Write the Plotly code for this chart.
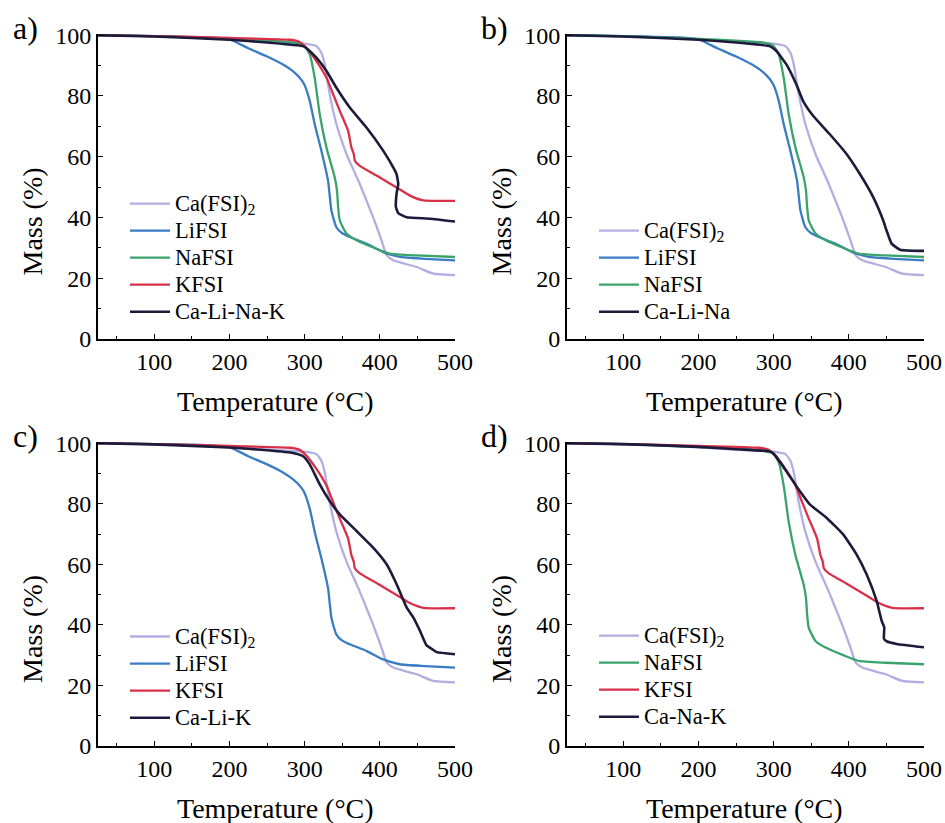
import plotly.graph_objects as go

# ---------------- data ----------------
T_CA = [25, 100, 150, 200, 250, 290, 300, 315.6, 322.2, 326.7, 333.3, 342.2, 355.6, 373.3, 391, 402.2, 409, 417.8, 449, 471, 500]
M_CA = [100, 99.7, 99.3, 98.6, 97.9, 97.4, 97.2, 96.4, 94.2, 90.4, 80.6, 70.7, 60.9, 51, 40.1, 32.5, 27.6, 25.9, 23.7, 21.5, 21.0]

T_LI = [25, 75, 125, 175, 200, 212, 225, 250, 270, 285, 295, 300, 306.7, 314, 322.2, 331.1, 335.6, 342.2, 350, 360, 382.2, 404.4, 426.7, 460, 500]
M_LI = [100, 99.8, 99.6, 99.3, 98.6, 97.3, 95.7, 93, 90.5, 88, 85.5, 83.5, 78.4, 70, 62, 52.1, 42.3, 36.8, 34.8, 33.6, 31.4, 28.6, 27, 26.4, 25.9]

T_NA = [25, 100, 200, 250, 289, 300, 306.7, 313.3, 320, 329, 340, 343, 344.5, 346.7, 355.6, 369, 395.6, 413.3, 449, 500]
M_NA = [100, 99.7, 98.8, 98.2, 97.5, 96.4, 93.7, 86, 74, 63, 53.2, 48.9, 43.4, 39, 34.7, 32.5, 29.7, 28.1, 27.5, 27.0]

T_K = [25, 100, 200, 280, 286.7, 293.3, 302.2, 315.6, 329, 337.8, 346.7, 357.8, 362.2, 365.3, 366.7, 373.3, 395.6, 422.2, 440, 457.8, 500]
M_K = [100, 99.7, 99.1, 98.5, 98.3, 97.8, 95.9, 91.5, 86, 80.6, 75.1, 68.5, 63, 60.9, 58.7, 57, 53.8, 49.9, 47.2, 45.6, 45.5]

T_CALINAK = [25, 100, 200, 250, 297.8, 304.4, 315.6, 329, 342.2, 360, 382.2, 404.4, 417.8, 422.2, 424.5, 422.2, 421.4, 424.5, 435.6, 466.7, 500]
M_CALINAK = [100, 99.6, 98.5, 97.6, 96.4, 95.3, 92.6, 88.2, 82.7, 76.2, 69.6, 62, 56.5, 54.3, 51, 47.8, 43.4, 41.4, 40.1, 39.6, 38.7]

T_CALINA = [25, 100, 200, 250, 294.7, 303.6, 316.9, 330.2, 339, 352.4, 374.7, 396.9, 414.7, 432.4, 445.8, 450.2, 456.9, 468, 500]
M_CALINA = [100, 99.6, 98.5, 97.6, 96.4, 94.8, 90.4, 83.8, 78.4, 73.5, 67.4, 60.9, 54.3, 46.7, 39, 35.7, 31.4, 29.4, 29.0]

T_CALIK = [25, 100, 200, 250, 284.5, 297.8, 306.7, 320, 333.3, 346.7, 369, 391.1, 409, 422.2, 435.6, 444.5, 453.3, 462.2, 469, 475.6, 500]
M_CALIK = [100, 99.6, 98.6, 97.7, 96.8, 95.7, 93, 86.4, 80.9, 76.5, 71, 65.5, 60, 53.5, 45.8, 42.5, 38.1, 33.2, 32.1, 31, 30.3]

T_CANAK = [25, 100, 200, 250, 294.7, 301.3, 316.9, 334.7, 348, 370.2, 392.4, 410.2, 423.6, 436.9, 443.6, 447.1, 446.7, 450.2, 463.6, 500]
M_CANAK = [100, 99.7, 98.8, 98.0, 97.3, 96.2, 90.7, 84.2, 79.8, 75.4, 69.9, 63.3, 56.7, 48, 41.4, 39.2, 35.4, 34.6, 33.7, 32.6]

PANEL_LABELS = ["a)", "b)", "c)", "d)"]
X_TITLE = "Temperature (°C)"
Y_TITLE = "Mass (%)"
X_TICKS = [100, 200, 300, 400, 500]
Y_TICKS = [0, 20, 40, 60, 80, 100]

SER = {
    "ca": ("Ca(FSI)<sub>2</sub>", T_CA, M_CA),
    "li": ("LiFSI", T_LI, M_LI),
    "na": ("NaFSI", T_NA, M_NA),
    "k": ("KFSI", T_K, M_K),
}
MIX = [("Ca-Li-Na-K", T_CALINAK, M_CALINAK),
       ("Ca-Li-Na", T_CALINA, M_CALINA),
       ("Ca-Li-K", T_CALIK, M_CALIK),
       ("Ca-Na-K", T_CANAK, M_CANAK)]
PANEL_SERIES = [["ca", "li", "na", "k"], ["ca", "li", "na"], ["ca", "li", "k"], ["ca", "na", "k"]]

COL = {"ca": "#b3aee2", "li": "#3a7cc3", "na": "#3aa36c", "k": "#d9304a", "mix": "#1d1b3b"}

W, H = 945, 823
FONT = "Liberation Serif"
LEG_TXT = 22.5      # visible legend text size
LEG_BASE = 18.5     # legend font size used for row spacing

# pixel geometry of the four plot areas (left, right, top, bottom) and legend top
BOX = [(98, 455, 34, 339), (567, 924, 34, 339), (98, 455, 442, 746), (567, 924, 442, 746)]
LEG_TOP = [185, 212, 618, 617]


def leg_name(s):
    return "<span style='font-family:Liberation Serif;font-size:%.1fpx'>%s</span>" % (LEG_TXT, s)


fig = go.Figure()
layout = dict(width=W, height=H, margin=dict(l=0, r=0, t=0, b=0, autoexpand=False),
              paper_bgcolor="white", plot_bgcolor="white",
              font=dict(family=FONT, color="black"), showlegend=True,
              annotations=[])

for i in range(4):
    ax = "" if i == 0 else str(i + 1)
    lg = "legend" if i == 0 else "legend" + str(i + 1)
    l, r, t, b = BOX[i]
    for key in PANEL_SERIES[i]:
        name, xs, ys = SER[key]
        fig.add_trace(go.Scatter(x=xs, y=ys, mode="lines", name=leg_name(name),
                                 line=dict(color=COL[key], width=2.3, shape="spline", smoothing=0.5),
                                 xaxis="x" + ax, yaxis="y" + ax, legend=lg))
    mname, mx, my = MIX[i]
    fig.add_trace(go.Scatter(x=mx, y=my, mode="lines", name=leg_name(mname),
                             line=dict(color=COL["mix"], width=2.6, shape="spline", smoothing=0.4),
                             xaxis="x" + ax, yaxis="y" + ax, legend=lg))

    common = dict(showline=True, linecolor="black", linewidth=2, showgrid=False, zeroline=False,
                  ticks="inside", ticklen=5, tickwidth=1.3, tickcolor="black", automargin=False,
                  tickfont=dict(family=FONT, size=24, color="black"))
    layout["xaxis" + ax] = dict(common, domain=[l / W, r / W], range=[25, 500],
                                tickvals=X_TICKS, anchor="y" + ax,
                                minor=dict(ticks="inside", ticklen=3, tickwidth=1.1, dtick=50, tick0=0,
                                           tickcolor="black", showgrid=False))
    layout["yaxis" + ax] = dict(common, domain=[1 - b / H, 1 - t / H], range=[0, 100.4],
                                tickvals=Y_TICKS, anchor="x" + ax,
                                minor=dict(ticks="inside", ticklen=3, tickwidth=1.1, dtick=10, tick0=0,
                                           tickcolor="black", showgrid=False))
    layout[lg] = dict(x=(l + 27) / W, y=1 - LEG_TOP[i] / H, xanchor="left", yanchor="top",
                      bgcolor="rgba(0,0,0,0)", font=dict(family=FONT, size=LEG_BASE, color="black"),
                      itemwidth=40, tracegroupgap=0)

    cx = (l + r) / 2 - 1
    layout["annotations"] += [
        dict(text=X_TITLE, x=cx / W, y=1 - (b + 62) / H, xref="paper", yref="paper",
             showarrow=False, font=dict(family=FONT, size=28), xanchor="center", yanchor="middle"),
        dict(text=Y_TITLE, x=(l - 66) / W, y=1 - ((t + b) / 2 + 35) / H, xref="paper", yref="paper",
             showarrow=False, textangle=-90, font=dict(family=FONT, size=28),
             xanchor="center", yanchor="middle"),
        dict(text=PANEL_LABELS[i], x=(l - 73) / W, y=1 - (t - 6) / H, xref="paper", yref="paper",
             showarrow=False, font=dict(family=FONT, size=32), xanchor="center", yanchor="middle"),
    ]

fig.update_layout(**layout)
fig.write_html("out.html")
